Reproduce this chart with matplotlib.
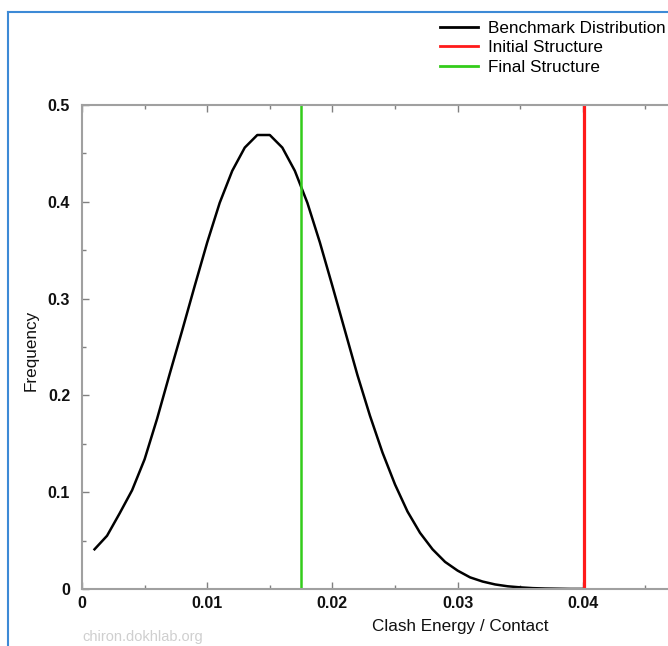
import matplotlib
matplotlib.use("Agg")
import matplotlib.pyplot as plt
from matplotlib.lines import Line2D

plt.rcParams['font.family'] = ['Liberation Sans', 'DejaVu Sans']

# Benchmark distribution
energy = [0.001, 0.002, 0.003, 0.004, 0.005, 0.006, 0.007, 0.008, 0.009, 0.010,
          0.011, 0.012, 0.013, 0.014, 0.015, 0.016, 0.017, 0.018, 0.019, 0.020,
          0.021, 0.022, 0.023, 0.024, 0.025, 0.026, 0.027, 0.028, 0.029, 0.030,
          0.031, 0.032, 0.033, 0.034, 0.035, 0.036, 0.037, 0.038, 0.039, 0.040]
frequency = [0.041, 0.055, 0.078, 0.102, 0.134, 0.176, 0.222, 0.267, 0.313, 0.358,
             0.399, 0.432, 0.456, 0.469, 0.469, 0.456, 0.432, 0.399, 0.358, 0.313,
             0.267, 0.221, 0.179, 0.141, 0.108, 0.080, 0.058, 0.041, 0.028, 0.019,
             0.012, 0.0077, 0.0047, 0.0028, 0.0017, 0.0009, 0.0005, 0.0003, 0.0001, 0.0001]
initial_structure = 0.0401
final_structure = 0.0175

series_labels = ["Benchmark Distribution", "Initial Structure", "Final Structure"]
series_colors = ["#000000", "#ff1a1a", "#33cc1a"]

W, H = 668, 646
fig = plt.figure(figsize=(W / 100, H / 100), dpi=100)
ax = fig.add_axes([82 / W, (H - 589) / H, (708 - 82) / W, (589 - 105) / H])

ax.plot(energy, frequency, color=series_colors[0], lw=1.8, solid_joinstyle='round')
ax.axvline(initial_structure, color=series_colors[1], lw=2.3)
ax.axvline(final_structure, color=series_colors[2], lw=1.8)

ax.set_xlim(0, 0.05)
ax.set_ylim(0, 0.5)
ax.set_xticks([0, 0.01, 0.02, 0.03, 0.04, 0.05])
ax.set_xticklabels(["0", "0.01", "0.02", "0.03", "0.04", ""])
ax.set_xticks([0.005, 0.015, 0.025, 0.035, 0.045], minor=True)
ax.set_yticks([0, 0.1, 0.2, 0.3, 0.4, 0.5])
ax.set_yticklabels(["0", "0.1", "0.2", "0.3", "0.4", "0.5"])
ax.set_yticks([0.05, 0.15, 0.25, 0.35, 0.45], minor=True)

spine_col = "#a0a0a0"
for s in ax.spines.values():
    s.set_color(spine_col)
    s.set_linewidth(1.5)
ax.tick_params(which='both', direction='in', top=True, right=True, color="#808080")
ax.tick_params(which='major', length=5, width=1)
ax.tick_params(axis='x', which='major', pad=5)
ax.tick_params(axis='y', which='major', pad=8.5)
ax.tick_params(which='minor', length=3, width=1)
for lab in ax.get_xticklabels() + ax.get_yticklabels():
    lab.set_fontweight('bold')
    lab.set_fontsize(11.5)
    lab.set_color('#111111')

fig.text(460 / W, 1 - 626 / H, "Clash Energy / Contact", ha='center', va='center',
         fontsize=12.3, color='#111111')
fig.text(31 / W, 1 - 350 / H, "Frequency", ha='center', va='center', rotation=90,
         fontsize=12.3, color='#111111')
fig.text(82 / W, 1 - 637 / H, "chiron.dokhlab.org", ha='left', va='center',
         fontsize=10.5, color='#cfcfcf')

handles = [Line2D([], [], color=c, lw=2) for c in series_colors]
fig.legend(handles, series_labels, loc='upper left',
           bbox_to_anchor=(440 / W, 1 - 21 / H), bbox_transform=fig.transFigure,
           frameon=False, borderpad=0, borderaxespad=0, handlelength=2.2,
           handletextpad=0.6, labelspacing=0.25, fontsize=12.3)

# blue frame of the screenshot
border = "#3d8ad6"
fig.add_artist(Line2D([8 / W, 8 / W], [0, 1 - 12 / H], color=border, lw=1.5,
                      transform=fig.transFigure))
fig.add_artist(Line2D([8 / W, 1], [1 - 12 / H, 1 - 12 / H], color=border, lw=1.5,
                      transform=fig.transFigure))

fig.savefig("out.png", dpi=100)
